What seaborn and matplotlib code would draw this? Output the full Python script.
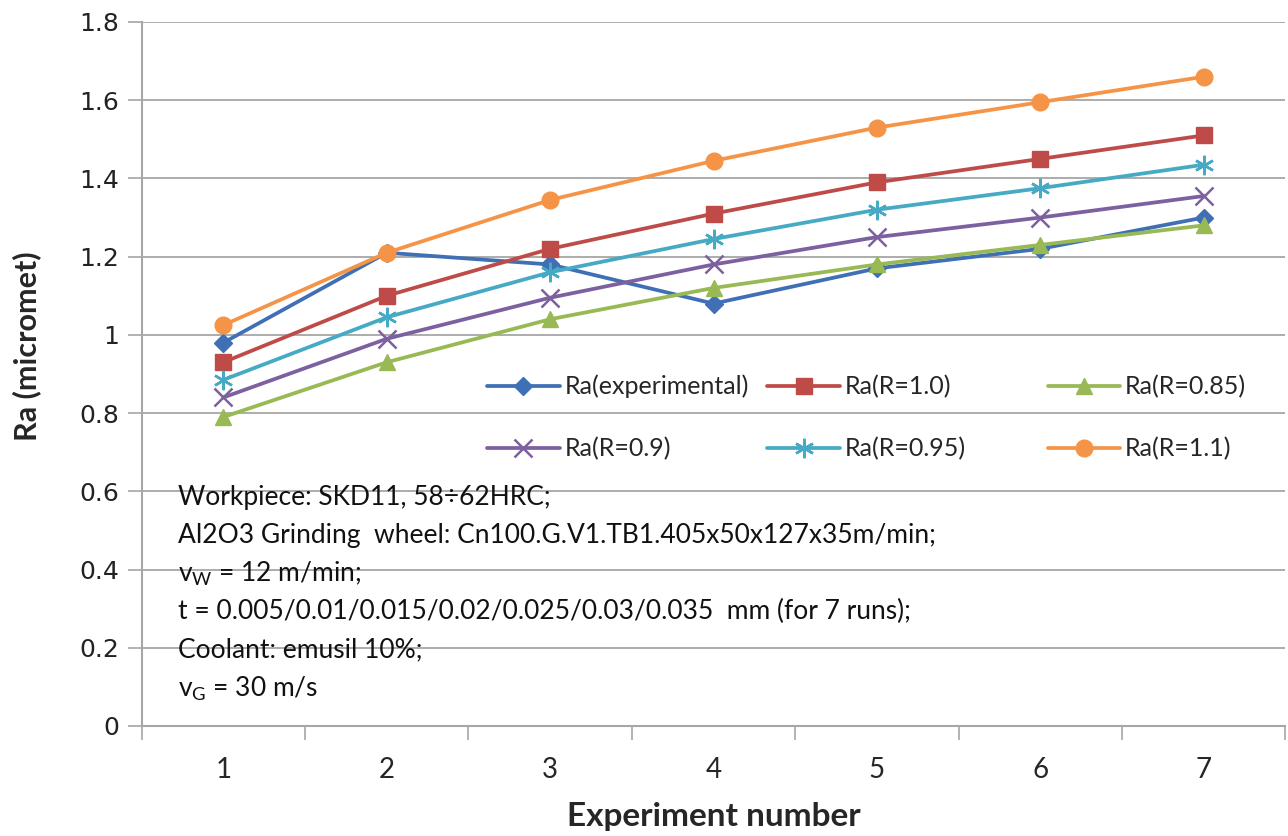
import numpy as np
import pandas as pd
import matplotlib
matplotlib.use("Agg")
import matplotlib.pyplot as plt
import seaborn as sns

# dados
experimentos = [1, 2, 3, 4, 5, 6, 7]
ra_exp = [0.98, 1.21, 1.18, 1.08, 1.17, 1.22, 1.30]
ra_r10 = [0.93, 1.10, 1.22, 1.31, 1.39, 1.45, 1.51]
ra_r085 = [0.79, 0.93, 1.04, 1.12, 1.18, 1.23, 1.28]
ra_r09 = [0.84, 0.99, 1.095, 1.18, 1.25, 1.30, 1.355]
ra_r095 = [0.885, 1.045, 1.16, 1.245, 1.32, 1.375, 1.435]
ra_r11 = [1.025, 1.21, 1.345, 1.445, 1.53, 1.595, 1.66]

nomes = ["Ra(experimental)", "Ra(R=1.0)", "Ra(R=0.85)", "Ra(R=0.9)", "Ra(R=0.95)", "Ra(R=1.1)"]
series = [ra_exp, ra_r10, ra_r085, ra_r09, ra_r095, ra_r11]
cores = ["#3F6FB5", "#BE4B48", "#98B954", "#7D60A0", "#46AAC5", "#F59446"]
marcadores = ["D", "s", "^", "x", (6, 2, 0), "o"]
tamanhos = [9, 12, 12, 13, 14, 12]

texto_info = [
    "Workpiece: SKD11, 58÷62HRC;",
    "Al2O3 Grinding  wheel: Cn100.G.V1.TB1.405x50x127x35m/min;",
    r"v$_\mathregular{W}$ = 12 m/min;",
    "t = 0.005/0.01/0.015/0.02/0.025/0.03/0.035  mm (for 7 runs);",
    "Coolant: emusil 10%;",
    r"v$_\mathregular{G}$ = 30 m/s",
]

sns.set_style("white")
plt.rcParams['font.family'] = ['Lato', 'DejaVu Sans']

fig = plt.figure(figsize=(12.88, 8.36), dpi=100)
ax = fig.add_axes([0.110, 0.1316, 0.888, 0.8421])

for nome, vals, cor, mk, ms in zip(nomes, series, cores, marcadores, tamanhos):
    df = pd.DataFrame({"exp": experimentos, "ra": vals})
    sns.lineplot(data=df, x="exp", y="ra", ax=ax, color=cor, linewidth=2.7,
                 marker=mk, markersize=ms, markeredgecolor=cor,
                 markeredgewidth=1.8 if mk == "x" or isinstance(mk, tuple) else 1,
                 label=nome)

ax.set_xlim(0.5, 7.5)
ax.set_ylim(0, 1.8)
ax.set_yticks(np.arange(0, 1.81, 0.2))
ax.set_yticklabels(["0", "0.2", "0.4", "0.6", "0.8", "1", "1.2", "1.4", "1.6", "1.8"])
for rotulo in ax.get_yticklabels():
    rotulo.set_fontfamily("DejaVu Sans")
    rotulo.set_fontsize(18)
    rotulo.set_color("#222222")
ax.yaxis.grid(True, color="#A6A6A6", linewidth=1.3)
ax.set_axisbelow(True)

# ticks do eixo x entre as categorias (estilo Excel)
ax.set_xticks(np.arange(0.5, 7.6, 1))
ax.set_xticklabels([])
ax.set_xticks(experimentos, minor=True)
ax.set_xticklabels([str(e) for e in experimentos], minor=True, fontsize=20)
ax.tick_params(axis="x", which="major", direction="out", length=10, width=1.2,
               color="#A6A6A6", bottom=True)
ax.tick_params(axis="x", which="minor", length=0, pad=22)
ax.tick_params(axis="y", direction="out", length=10, width=1.2, color="#A6A6A6",
               left=True, pad=6)

for lado in ["top", "right"]:
    ax.spines[lado].set_visible(False)
for lado in ["left", "bottom"]:
    ax.spines[lado].set_color("#A6A6A6")
    ax.spines[lado].set_linewidth(1.5)

ax.set_xlabel("Experiment number", fontsize=24, fontweight="bold", labelpad=14)
ax.set_ylabel("Ra (micromet)", fontsize=22, fontweight="bold")
ax.yaxis.set_label_coords(-0.088, 0.54)

# legenda: 3 colunas de 2 linhas, colunas com espaçamento igual
h, l = ax.get_legend_handles_labels()
colunas = [[0, 3], [1, 4], [2, 5]]
x_col = [0.302, 0.547, 0.792]
for k, (idx, xc) in enumerate(zip(colunas, x_col)):
    leg = ax.legend([h[i] for i in idx], [l[i] for i in idx], frameon=False,
                    loc="center left", bbox_to_anchor=(xc, 0.438), fontsize=18,
                    handlelength=2.9, labelspacing=1.55, handletextpad=0.2,
                    borderaxespad=0, borderpad=0)
    if k < 2:
        ax.add_artist(leg)

y0 = 0.325
for i, linha in enumerate(texto_info):
    ax.text(0.032, y0 - i * 0.0543, linha, transform=ax.transAxes, fontsize=19,
            va="center", ha="left", color="#111111")

fig.savefig("out.png", dpi=100)
